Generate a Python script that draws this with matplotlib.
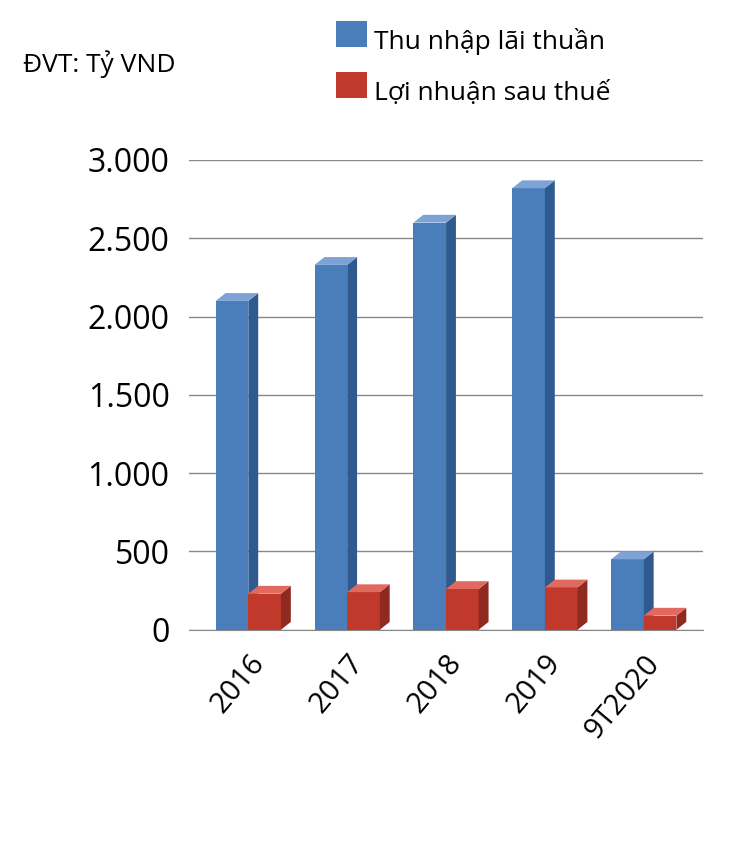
import numpy as np
import matplotlib.pyplot as plt
from matplotlib.patches import Polygon

plt.rcParams['font.family'] = ['Open Sans', 'DejaVu Sans']

years = ['2016', '2017', '2018', '2019', '9T2020']
thu_nhap = [2100, 2330, 2600, 2820, 450]
loi_nhuan = [230, 240, 260, 270, 90]

blue, blue_side, blue_top = '#4a7ebb', '#2f5a8f', '#7da3d6'
red, red_side, red_top = '#c0392b', '#8e2a20', '#e06a60'

fig = plt.figure(figsize=(7.56, 8.51), dpi=100)
ax = fig.add_axes([0.25, 0.26, 0.68, 0.552])

x = np.arange(len(years))
w = 0.33
dx, dy = 0.1, 50  # depth offsets


def bar3d(x0, h, c, cs, ct):
    ax.add_patch(Polygon([[x0, 0], [x0 + w, 0], [x0 + w, h], [x0, h]], closed=True, fc=c, ec='none', zorder=3))
    ax.add_patch(Polygon([[x0 + w, 0], [x0 + w + dx, dy], [x0 + w + dx, h + dy], [x0 + w, h]], closed=True, fc=cs, ec='none', zorder=3))
    ax.add_patch(Polygon([[x0, h], [x0 + dx, h + dy], [x0 + w + dx, h + dy], [x0 + w, h]], closed=True, fc=ct, ec='none', zorder=3))


for i in range(len(years)):
    bar3d(x[i] - w, thu_nhap[i], blue, blue_side, blue_top)
    bar3d(x[i], loi_nhuan[i], red, red_side, red_top)

ax.set_xlim(-0.6, len(years) - 0.4)
ax.set_ylim(0, 3000)
ax.set_yticks(np.arange(0, 3001, 500))
ax.set_yticklabels(['0', '500', '1.000', '1.500', '2.000', '2.500', '3.000'], fontsize=23)
ax.set_xticks(x)
ax.set_xticklabels(years, rotation=50, ha='right', rotation_mode='anchor', fontsize=21)
ax.grid(axis='y', color='#888888', lw=1, zorder=0)
for s in ['top', 'right', 'left']:
    ax.spines[s].set_visible(False)
ax.spines['bottom'].set_color('#888888')
ax.tick_params(axis='both', length=0, pad=14)

fig.text(0.03, 0.915, 'ĐVT: Tỷ VND', fontsize=19)
fig.patches.append(plt.Rectangle((0.445, 0.945), 0.04, 0.03, transform=fig.transFigure, fc=blue, figure=fig))
fig.text(0.495, 0.942, 'Thu nhập lãi thuần', fontsize=19)
fig.patches.append(plt.Rectangle((0.445, 0.885), 0.04, 0.03, transform=fig.transFigure, fc=red, figure=fig))
fig.text(0.495, 0.882, 'Lợi nhuận sau thuế', fontsize=19)

fig.savefig('out.png')
